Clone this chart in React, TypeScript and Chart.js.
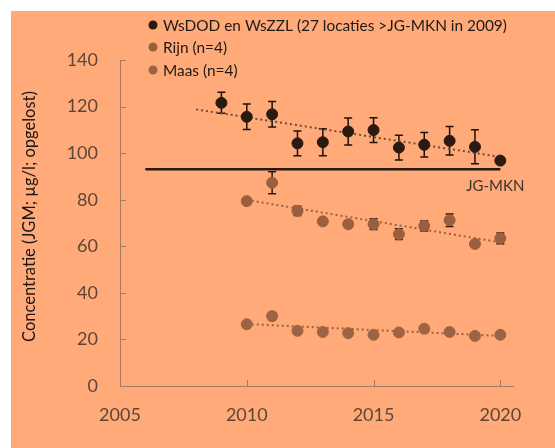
import React, { useEffect, useRef } from "react";
import { Chart, registerables } from "chart.js";

Chart.register(...registerables);

const wsYears = [2009, 2010, 2011, 2012, 2013, 2014, 2015, 2016, 2017, 2018, 2019, 2020];
const wsValues = [121.6, 115.6, 116.7, 104.2, 104.7, 109.3, 109.9, 102.4, 103.6, 105.3, 102.7, 96.8];
const wsErr = [4.5, 5.5, 5.5, 5.3, 5.8, 5.8, 5.3, 5.3, 5.3, 6.1, 7.3, 0];

const rbYears = [2010, 2011, 2012, 2013, 2014, 2015, 2016, 2017, 2018, 2019, 2020];
const rijnValues = [79.4, 87.3, 75.2, 70.7, 69.5, 69.5, 65.2, 68.8, 71.2, 61.0, 63.4];
const rijnErr = [0.5, 4.7, 2.0, 1.0, 1.2, 2.3, 2.3, 2.2, 2.7, 0.5, 2.3];
const maasValues = [26.5, 30.0, 23.7, 23.2, 22.7, 22.0, 23.0, 24.6, 23.2, 21.5, 22.0];
const maasErr = [0.5, 1.6, 0.8, 0.5, 0.5, 0.5, 0.5, 1.0, 0.5, 0.5, 0.5];

const wsTrendX = [2008, 2020];
const wsTrendY = [118.8, 98.4];
const rijnTrendX = [2010, 2020];
const rijnTrendY = [79.9, 61.7];
const maasTrendX = [2010, 2020];
const maasTrendY = [26.6, 21.5];
const jgX = [2006, 2020];
const jgY = [93.1, 93.1];
const jgLabel = "JG-MKN";

const labels = [
  "WsDOD en WsZZL (27 locaties >JG-MKN in 2009)",
  "Rijn (n=4)",
  "Maas (n=4)",
];
const yTitle = "Concentratie (JGM; µg/l; opgelost)";
const xTicks = [2005, 2010, 2015, 2020];
const yTicks = [0, 20, 40, 60, 80, 100, 120, 140];

const FONT = "Lato, 'Open Sans', sans-serif";
const C_WS = "#2b1a12";
const C_RIJN = "#9a5f3e";
const C_MAAS = "#9c6444";
const AXIS = "#a07a62";

const pts = (xs: number[], ys: number[], es?: number[]) =>
  xs.map((x, i) => ({ x, y: ys[i], e: es ? es[i] : 0 }));

const errorBars = {
  id: "errorBars",
  beforeDatasetsDraw(chart: any) {
    const { ctx } = chart;
    const xs = chart.scales.x;
    const ys = chart.scales.y;
    chart.data.datasets.forEach((ds: any, di: number) => {
      if (!ds.errColor || !chart.isDatasetVisible(di)) return;
      ctx.save();
      ctx.strokeStyle = ds.errColor;
      ctx.lineWidth = 1.5;
      ds.data.forEach((p: any) => {
        if (!p.e) return;
        const px = xs.getPixelForValue(p.x);
        const top = ys.getPixelForValue(p.y + p.e);
        const bot = ys.getPixelForValue(p.y - p.e);
        ctx.beginPath();
        ctx.moveTo(px, top);
        ctx.lineTo(px, bot);
        ctx.moveTo(px - 4, top);
        ctx.lineTo(px + 4, top);
        ctx.moveTo(px - 4, bot);
        ctx.lineTo(px + 4, bot);
        ctx.stroke();
      });
      ctx.restore();
    });
  },
};

const extras = {
  id: "extras",
  afterDraw(chart: any) {
    const { ctx } = chart;
    const xs = chart.scales.x;
    const ys = chart.scales.y;
    const area = chart.chartArea;
    ctx.save();
    // inside tick marks
    ctx.strokeStyle = AXIS;
    ctx.lineWidth = 1;
    ctx.beginPath();
    xTicks.forEach((t) => {
      const px = Math.round(xs.getPixelForValue(t)) + 0.5;
      if (t === xs.min) return;
      ctx.moveTo(px, area.bottom);
      ctx.lineTo(px, area.bottom - 6);
    });
    yTicks.forEach((t) => {
      const py = Math.round(ys.getPixelForValue(t)) + 0.5;
      if (t === ys.min) return;
      ctx.moveTo(area.left, py);
      ctx.lineTo(area.left + 6, py);
    });
    ctx.stroke();
    // JG-MKN label
    ctx.fillStyle = "#3a3330";
    ctx.font = `15px ${FONT}`;
    ctx.textAlign = "center";
    ctx.textBaseline = "middle";
    ctx.fillText(jgLabel, xs.getPixelForValue(jgX[1]) - 5, ys.getPixelForValue(jgY[1]) + 17);
    // y-axis title
    ctx.save();
    ctx.translate(19, 205.5);
    ctx.rotate(-Math.PI / 2);
    ctx.fillStyle = "#1a1614";
    ctx.font = `16.5px ${FONT}`;
    ctx.fillText(yTitle, 0, 0);
    ctx.restore();
    // legend
    const legendColors = [C_WS, C_RIJN, C_MAAS];
    const rowsY = [14, 36, 59];
    ctx.textAlign = "left";
    ctx.font = `15.4px ${FONT}`;
    labels.forEach((lab, i) => {
      ctx.fillStyle = legendColors[i];
      ctx.beginPath();
      ctx.arc(142, rowsY[i], 4.5, 0, Math.PI * 2);
      ctx.fill();
      ctx.fillStyle = "#1e1a18";
      ctx.fillText(lab, 152, rowsY[i] + 1);
    });
    ctx.restore();
  },
};

export default function App() {
  const ref = useRef<HTMLCanvasElement | null>(null);
  useEffect(() => {
    if (!ref.current) return;
    const chart = new Chart(ref.current, {
      type: "scatter",
      data: {
        datasets: [
          {
            type: "line",
            data: pts(jgX, jgY),
            borderColor: "#231812",
            borderWidth: 2.5,
            pointRadius: 0,
            order: 5,
          } as any,
          {
            type: "line",
            data: pts(wsTrendX, wsTrendY),
            borderColor: "#6e4a38",
            borderWidth: 2,
            borderDash: [2, 3],
            pointRadius: 0,
            order: 4,
          } as any,
          {
            type: "line",
            data: pts(rijnTrendX, rijnTrendY),
            borderColor: "#9a603f",
            borderWidth: 2,
            borderDash: [2, 3],
            pointRadius: 0,
            order: 4,
          } as any,
          {
            type: "line",
            data: pts(maasTrendX, maasTrendY),
            borderColor: "#9a603f",
            borderWidth: 2,
            borderDash: [2, 3],
            pointRadius: 0,
            order: 4,
          } as any,
          {
            label: labels[0],
            data: pts(wsYears, wsValues, wsErr),
            backgroundColor: C_WS,
            borderColor: C_WS,
            pointRadius: 5.5,
            errColor: "#1c120c",
            order: 1,
          } as any,
          {
            label: labels[1],
            data: pts(rbYears, rijnValues, rijnErr),
            backgroundColor: C_RIJN,
            borderColor: C_RIJN,
            pointRadius: 5.5,
            errColor: "#2a1c14",
            order: 2,
          } as any,
          {
            label: labels[2],
            data: pts(rbYears, maasValues, maasErr),
            backgroundColor: C_MAAS,
            borderColor: C_MAAS,
            pointRadius: 5.5,
            errColor: "#2a1c14",
            order: 3,
          } as any,
        ],
      },
      options: {
        animation: false,
        responsive: true,
        maintainAspectRatio: false,
        layout: { padding: { top: 49, right: 42, bottom: 0, left: 0 } },
        plugins: { legend: { display: false }, tooltip: { enabled: false } },
        scales: {
          x: {
            type: "linear",
            min: 2005,
            max: 2020.5,
            grid: { display: false, drawTicks: false },
            border: { display: true, color: AXIS, width: 1 },
            afterBuildTicks: (s: any) => {
              s.ticks = xTicks.map((v) => ({ value: v }));
            },
            afterFit: (s: any) => {
              s.height = 62;
            },
            ticks: {
              padding: 18,
              color: "#5b4739",
              font: { family: FONT, size: 18 },
              callback: (v: any) => String(v),
            },
          },
          y: {
            type: "linear",
            min: 0,
            max: 140,
            grid: { display: false, drawTicks: false },
            border: { display: true, color: AXIS, width: 1 },
            afterBuildTicks: (s: any) => {
              s.ticks = yTicks.map((v) => ({ value: v }));
            },
            afterFit: (s: any) => {
              s.width = 109;
            },
            ticks: {
              padding: 22,
              color: "#5b4739",
              font: { family: FONT, size: 18 },
            },
          },
        },
      },
      plugins: [errorBars, extras],
    });
    return () => chart.destroy();
  }, []);

  return (
    <div
      style={{
        position: "absolute",
        left: 11,
        top: 11,
        width: 544,
        height: 437,
        background: "#ffaa78",
      }}
    >
      <canvas ref={ref} />
    </div>
  );
}
